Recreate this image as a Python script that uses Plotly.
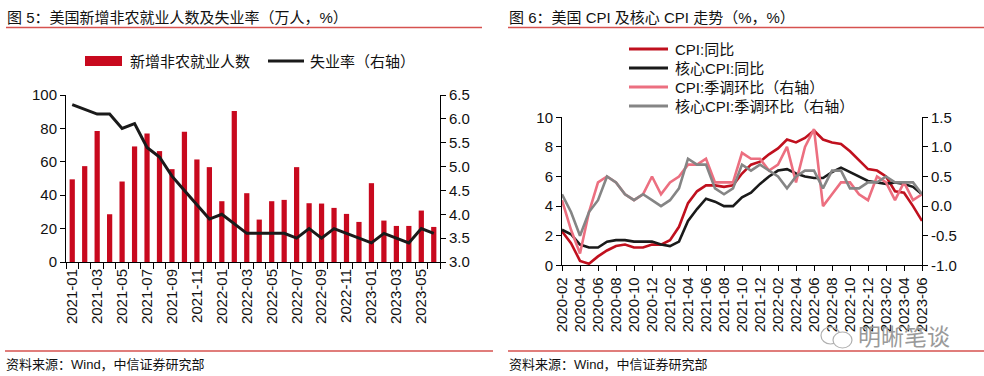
import plotly.graph_objects as go

# ---------------- data ----------------
nfp_months = ["2021-01", "2021-02", "2021-03", "2021-04", "2021-05", "2021-06", "2021-07", "2021-08",
              "2021-09", "2021-10", "2021-11", "2021-12", "2022-01", "2022-02", "2022-03", "2022-04",
              "2022-05", "2022-06", "2022-07", "2022-08", "2022-09", "2022-10", "2022-11", "2022-12",
              "2023-01", "2023-02", "2023-03", "2023-04", "2023-05", "2023-06"]
nfp_values = [49.5, 57.4, 78.4, 28.6, 48.2, 69.2, 77.0, 66.4, 55.6, 78.0, 61.4, 56.8, 36.4, 90.4, 41.2,
              25.4, 36.4, 37.2, 56.8, 35.2, 35.0, 32.4, 28.8, 24.0, 47.2, 24.8, 21.6, 21.6, 30.8, 21.0]
unemployment = [6.3, 6.2, 6.1, 6.1, 5.8, 5.9, 5.4, 5.2, 4.8, 4.5, 4.2, 3.9, 4.0, 3.8, 3.6,
                3.6, 3.6, 3.6, 3.5, 3.7, 3.5, 3.7, 3.6, 3.5, 3.4, 3.6, 3.5, 3.4, 3.7, 3.6]

cpi_months = ["2020-02", "2020-03", "2020-04", "2020-05", "2020-06", "2020-07", "2020-08", "2020-09",
              "2020-10", "2020-11", "2020-12", "2021-01", "2021-02", "2021-03", "2021-04", "2021-05",
              "2021-06", "2021-07", "2021-08", "2021-09", "2021-10", "2021-11", "2021-12", "2022-01",
              "2022-02", "2022-03", "2022-04", "2022-05", "2022-06", "2022-07", "2022-08", "2022-09",
              "2022-10", "2022-11", "2022-12", "2023-01", "2023-02", "2023-03", "2023-04", "2023-05",
              "2023-06"]
cpi_yoy = [2.3, 1.5, 0.3, 0.1, 0.6, 1.0, 1.3, 1.4, 1.2, 1.2, 1.4,
           1.4, 1.7, 2.6, 4.2, 5.0, 5.4, 5.4, 5.3, 5.4, 6.2, 6.8, 7.0,
           7.5, 7.9, 8.5, 8.3, 8.6, 9.1, 8.5, 8.3, 8.2, 7.7, 7.1, 6.5,
           6.4, 6.0, 5.0, 4.9, 4.0, 3.0]
core_yoy = [2.4, 2.1, 1.4, 1.2, 1.2, 1.6, 1.7, 1.7, 1.6, 1.6, 1.6,
            1.4, 1.3, 1.6, 3.0, 3.8, 4.5, 4.3, 4.0, 4.0, 4.6, 4.9, 5.5,
            6.0, 6.4, 6.5, 6.2, 6.0, 5.9, 5.9, 6.3, 6.6, 6.3, 6.0, 5.7,
            5.6, 5.5, 5.6, 5.5, 5.3, 4.8]
cpi_mom = [0.1, -0.4, -0.8, -0.1, 0.4, 0.5, 0.4, 0.2, 0.1, 0.2, 0.5,
           0.2, 0.4, 0.5, 0.7, 0.7, 0.8, 0.4, 0.4, 0.4, 0.9, 0.8, 0.8,
           0.6, 0.7, 1.0, 0.4, 1.0, 1.3, 0.0, 0.2, 0.4, 0.4, 0.2, 0.1,
           0.5, 0.4, 0.1, 0.4, 0.1, 0.2]
core_mom = [0.2, -0.1, -0.5, -0.1, 0.1, 0.5, 0.4, 0.2, 0.1, 0.2, 0.1,
            0.0, 0.1, 0.3, 0.8, 0.7, 0.7, 0.3, 0.2, 0.3, 0.7, 0.6, 0.7,
            0.6, 0.5, 0.3, 0.5, 0.6, 0.6, 0.3, 0.6, 0.6, 0.3, 0.3, 0.4,
            0.4, 0.5, 0.4, 0.4, 0.4, 0.2]

left_y_ticks = [0, 20, 40, 60, 80, 100]
unemp_ticks = [3.0, 3.5, 4.0, 4.5, 5.0, 5.5, 6.0, 6.5]
cpi_left_ticks = [0, 2, 4, 6, 8, 10]
cpi_right_ticks = [-1.0, -0.5, 0.0, 0.5, 1.0, 1.5]

# ---------------- style ----------------
W, H = 984, 376
FONT = "Arial, 'Liberation Sans', 'Noto Sans CJK SC', sans-serif"
BAR_RED = "#C8091E"
DARK_RED = "#C0101E"
BLACK = "#1A1A1A"
PINK = "#EC6F80"
GRAY = "#858585"
RULE = "#D6524F"


def px(x):
    return x / W


def py(y):
    return 1 - y / H


def fmt(v):
    return f"{v:.1f}"


nx = list(range(len(nfp_months)))
cx = list(range(len(cpi_months)))

fig = go.Figure()
fig.add_trace(go.Bar(x=nx, y=nfp_values, marker=dict(color=BAR_RED, line=dict(width=0)),
                     width=0.42, xaxis="x", yaxis="y", name="新增非农就业人数"))
fig.add_trace(go.Scatter(x=nx, y=unemployment, mode="lines", line=dict(color=BLACK, width=3),
                         xaxis="x", yaxis="y2", name="失业率（右轴）"))

fig.add_trace(go.Scatter(x=cx, y=cpi_yoy, mode="lines", line=dict(color=DARK_RED, width=2.6),
                         xaxis="x2", yaxis="y3", name="CPI:同比"))
fig.add_trace(go.Scatter(x=cx, y=core_yoy, mode="lines", line=dict(color=BLACK, width=2.6),
                         xaxis="x2", yaxis="y3", name="核心CPI:同比"))
fig.add_trace(go.Scatter(x=cx, y=cpi_mom, mode="lines", line=dict(color=PINK, width=2.6),
                         xaxis="x2", yaxis="y4", name="CPI:季调环比（右轴）"))
fig.add_trace(go.Scatter(x=cx, y=core_mom, mode="lines", line=dict(color=GRAY, width=2.6),
                         xaxis="x2", yaxis="y4", name="核心CPI:季调环比（右轴）"))

axis_common = dict(showline=True, linecolor="black", linewidth=1, showgrid=False, zeroline=False,
                   automargin=False, tickcolor="black", tickwidth=1,
                   tickfont=dict(size=15, color="#111", family=FONT))

fig.update_layout(
    template="none",
    width=W, height=H, autosize=False,
    margin=dict(l=0, r=0, t=0, b=0, pad=0, autoexpand=False),
    paper_bgcolor="white", plot_bgcolor="rgba(0,0,0,0)",
    showlegend=False, bargap=0.5,
    font=dict(family=FONT, size=14, color="#111"),
    xaxis=dict(domain=[px(66), px(440)], range=[-0.5, len(nfp_months) - 0.5], anchor="y",
               tickmode="array", tickvals=nx[::2], ticktext=nfp_months[::2], tickangle=-90,
               ticks="outside", ticklen=0,
               minor=dict(tickmode="array", tickvals=[k + 0.5 for k in range(-1, len(nfp_months))],
                          ticks="outside", ticklen=6, tickcolor="black", tickwidth=1),
               **axis_common),
    yaxis=dict(domain=[py(262), py(95)], range=[0, 100], anchor="x",
               tickmode="array", tickvals=left_y_ticks, ticks="outside", ticklen=5, **axis_common),
    yaxis2=dict(overlaying="y", side="right", range=[3.0, 6.5], anchor="x",
                tickmode="array", tickvals=unemp_ticks, ticktext=[fmt(v) for v in unemp_ticks],
                ticks="outside", ticklen=5, **axis_common),
    xaxis2=dict(domain=[px(562), px(922)], range=[0, len(cpi_months) - 1], anchor="y3",
                tickmode="array", tickvals=cx[::2], ticktext=cpi_months[::2], tickangle=-90,
                ticks="outside", ticklen=5, **axis_common),
    yaxis3=dict(domain=[py(265.3), py(117.3)], range=[0, 10], anchor="x2",
                tickmode="array", tickvals=cpi_left_ticks, ticks="outside", ticklen=5, **axis_common),
    yaxis4=dict(overlaying="y3", side="right", range=[-1.0, 1.5], anchor="x2",
                tickmode="array", tickvals=cpi_right_ticks, ticktext=[fmt(v) for v in cpi_right_ticks],
                ticks="outside", ticklen=5, **axis_common),
)

shapes = []
annotations = []


def text(x, y, s, size=15, color="#111", anchor="left", family=FONT):
    annotations.append(dict(x=px(x), y=py(y), xref="paper", yref="paper", text=s, showarrow=False,
                            xanchor=anchor, yanchor="middle", borderpad=0,
                            font=dict(size=size, color=color, family=family)))


def hline(x0, x1, y, color, width):
    shapes.append(dict(type="line", xref="paper", yref="paper", x0=px(x0), x1=px(x1), y0=py(y), y1=py(y),
                       line=dict(color=color, width=width)))


# titles
text(6, 17, "图 5：美国新增非农就业人数及失业率（万人，%）", size=15)
hline(6, 482, 27.5, RULE, 1.5)
text(508, 17, "图 6：美国 CPI 及核心 CPI 走势（%，%）", size=15)
hline(508, 984, 27.5, RULE, 1.5)

# left legend
shapes.append(dict(type="rect", xref="paper", yref="paper", x0=px(85), x1=px(122), y0=py(66), y1=py(56),
                   fillcolor=BAR_RED, line=dict(width=0)))
text(129, 61, "新增非农就业人数", size=15)
hline(268, 304, 61, BLACK, 3)
text(309, 61, "失业率（右轴）", size=15)

# right legend
for i, (name, col) in enumerate([("CPI:同比", DARK_RED), ("核心CPI:同比", BLACK),
                                 ("CPI:季调环比（右轴）", PINK), ("核心CPI:季调环比（右轴）", GRAY)]):
    yy = 49 + 19 * i
    hline(629, 668, yy, col, 3)
    text(674, yy, name, size=15)

# footers
hline(5, 493, 351, RULE, 1.5)
text(5, 364, "资料来源：Wind，中信证券研究部", size=13)
hline(508, 984, 351, RULE, 1.5)
text(508, 364, "资料来源：Wind，中信证券研究部", size=13)

# watermark
shapes.append(dict(type="circle", xref="paper", yref="paper", x0=px(821), x1=px(840), y0=py(344), y1=py(327),
                   line=dict(color="#B0B0B0", width=1.2)))
shapes.append(dict(type="circle", xref="paper", yref="paper", x0=px(833), x1=px(852), y0=py(348), y1=py(332),
                   line=dict(color="#B0B0B0", width=1.2), fillcolor="white"))
text(857, 337, "明晰笔谈", size=23, color="#9A9A9A")

fig.update_layout(shapes=shapes, annotations=annotations)
fig.write_html("out.html",
               config={"displayModeBar": False},
               post_script="document.body.style.margin='0px';document.body.style.overflow='hidden';")
